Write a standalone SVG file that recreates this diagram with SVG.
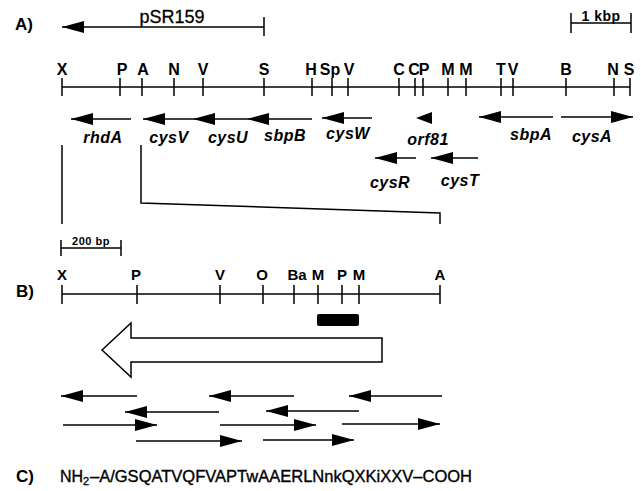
<svg xmlns="http://www.w3.org/2000/svg" width="641" height="491" viewBox="0 0 641 491">
<style>
.ln{stroke:#000;stroke-width:1.5;fill:none}
.ar{stroke:#000;stroke-width:1.5;fill:none;marker-end:url(#head)}
.lb{font-family:"Liberation Sans",Arial,sans-serif;font-weight:bold;font-size:16px;text-anchor:middle;fill:#000}
.lbB{font-family:"Liberation Sans",Arial,sans-serif;font-weight:bold;font-size:15px;text-anchor:middle;fill:#000}
.gn{font-family:"Liberation Sans",Arial,sans-serif;font-weight:bold;font-style:italic;font-size:16px;text-anchor:middle;letter-spacing:0.5px;fill:#000}
.pl{font-family:"Liberation Sans",Arial,sans-serif;font-weight:bold;font-size:17px;fill:#000}
.sq{font-family:"Liberation Sans",Arial,sans-serif;font-size:16px;fill:#000;stroke:#000;stroke-width:0.35}
</style>
<defs>
<marker id="head" viewBox="0 0 22 12" refX="22" refY="6" markerWidth="22" markerHeight="12" markerUnits="userSpaceOnUse" orient="auto">
<path d="M0,0 L22,6 L0,12 z" fill="#000"/>
</marker>
</defs>
<rect width="641" height="491" fill="#fff"/>

<g id="panelA">
<text class="pl" x="15" y="30">A)</text>
<g id="pSR159">
<line class="ar" x1="264" y1="27" x2="62" y2="27"/>
<line class="ln" x1="264" y1="17" x2="264" y2="36"/>
<text x="172" y="23" font-family="Liberation Sans,Arial,sans-serif" font-size="18" text-anchor="middle" stroke="#000" stroke-width="0.3">pSR159</text>
</g>
<g id="scale1kbp">
<line class="ln" x1="571" y1="23" x2="631" y2="23"/>
<line class="ln" x1="571" y1="13" x2="571" y2="33"/>
<line class="ln" x1="631" y1="13" x2="631" y2="33"/>
<text x="601" y="21" font-family="Liberation Sans,Arial,sans-serif" font-weight="bold" font-size="14" text-anchor="middle" letter-spacing="0.5">1 kbp</text>
</g>
<g id="mapA">
<line class="ln" x1="62" y1="87" x2="630" y2="87"/>
<path class="ln" d="M62,78V96 M120,78V96 M142,78V96 M174,78V96 M203,78V96 M264,78V96 M312,78V96 M332,78V96 M348,78V96 M399,78V96 M415,78V96 M423,78V96 M448,78V96 M466,78V96 M501,78V96 M513,78V96 M566,78V96 M614,78V96 M630,78V96"/>
<text class="lb" x="62" y="75">X</text>
<text class="lb" x="122" y="75">P</text>
<text class="lb" x="143" y="75">A</text>
<text class="lb" x="174" y="75">N</text>
<text class="lb" x="203" y="75">V</text>
<text class="lb" x="264" y="75">S</text>
<text class="lb" x="311" y="75">H</text>
<text class="lb" x="330" y="75">Sp</text>
<text class="lb" x="349" y="75">V</text>
<text class="lb" x="399" y="75">C</text>
<text class="lb" x="414" y="75">C</text>
<text class="lb" x="424" y="75">P</text>
<text class="lb" x="448" y="75">M</text>
<text class="lb" x="466" y="75">M</text>
<text class="lb" x="501" y="75">T</text>
<text class="lb" x="513" y="75">V</text>
<text class="lb" x="566" y="75">B</text>
<text class="lb" x="613" y="75">N</text>
<text class="lb" x="629" y="75">S</text>
</g>
<g id="genes">
<line class="ar" x1="131" y1="119" x2="71" y2="119"/>
<line class="ar" x1="193" y1="119" x2="143" y2="119"/>
<line class="ar" x1="247" y1="119" x2="193" y2="119"/>
<line class="ar" x1="312" y1="119" x2="247" y2="119"/>
<line class="ar" x1="372" y1="118" x2="322" y2="118"/>
<polygon points="432,112 416,118 432,124" fill="#000"/>
<line class="ar" x1="553" y1="117" x2="479" y2="117"/>
<line class="ar" x1="561" y1="117" x2="633" y2="117"/>
<line class="ar" x1="416" y1="158" x2="375" y2="158"/>
<line class="ar" x1="478" y1="158" x2="431" y2="158"/>
<text class="gn" x="103" y="143">rhdA</text>
<text class="gn" x="169" y="143">cysV</text>
<text class="gn" x="228" y="143">cysU</text>
<text class="gn" x="285" y="141">sbpB</text>
<text class="gn" x="348" y="139">cysW</text>
<text class="gn" x="428" y="145">orf81</text>
<text class="gn" x="531" y="140">sbpA</text>
<text class="gn" x="592" y="142">cysA</text>
<text class="gn" x="390" y="188">cysR</text>
<text class="gn" x="460" y="186">cysT</text>
</g>
</g>

<g id="expansion">
<line class="ln" x1="62" y1="145" x2="62" y2="224"/>
<polyline class="ln" points="141,145 141,203 440,213 440,224"/>
</g>

<g id="panelB">
<text class="pl" x="16" y="297">B)</text>
<g id="scale200">
<line class="ln" x1="61" y1="248" x2="121" y2="248"/>
<line class="ln" x1="61" y1="240" x2="61" y2="256"/>
<line class="ln" x1="121" y1="240" x2="121" y2="256"/>
<text x="91" y="245" font-family="Liberation Sans,Arial,sans-serif" font-weight="bold" font-size="11" text-anchor="middle" letter-spacing="0.5">200 bp</text>
</g>
<g id="mapB">
<line class="ln" x1="62" y1="294" x2="440" y2="294"/>
<path class="ln" d="M62,285V304 M137,285V304 M220,285V304 M263,285V304 M294,285V304 M318,285V304 M342,285V304 M359,285V304 M440,285V304"/>
<text class="lbB" x="62" y="280">X</text>
<text class="lbB" x="136" y="280">P</text>
<text class="lbB" x="220" y="280">V</text>
<text class="lbB" x="262" y="280">O</text>
<text class="lbB" x="297" y="280">Ba</text>
<text class="lbB" x="318" y="280">M</text>
<text class="lbB" x="342" y="280">P</text>
<text class="lbB" x="359" y="280">M</text>
<text class="lbB" x="440" y="280">A</text>
</g>
<rect id="bar" x="317" y="314" width="42" height="12" rx="2" fill="#000"/>
<polygon id="openArrow" points="102,350 131,323 131,338 382,338 382,362 131,362 131,377" fill="#fff" stroke="#000" stroke-width="1.5"/>
<g id="seqArrows">
<line class="ar" x1="137" y1="396" x2="61" y2="396"/>
<line class="ar" x1="294" y1="396" x2="209" y2="396"/>
<line class="ar" x1="442" y1="396" x2="349" y2="396"/>
<line class="ar" x1="219" y1="412" x2="125" y2="412"/>
<line class="ar" x1="359" y1="411" x2="266" y2="411"/>
<line class="ar" x1="63" y1="425" x2="157" y2="425"/>
<line class="ar" x1="220" y1="425" x2="316" y2="425"/>
<line class="ar" x1="342" y1="424" x2="440" y2="424"/>
<line class="ar" x1="136" y1="441" x2="242" y2="441"/>
<line class="ar" x1="263" y1="440" x2="354" y2="440"/>
</g>
</g>

<g id="panelC">
<text class="pl" x="16" y="482">C)</text>
<text class="sq" x="60" y="482">NH<tspan font-size="11" dy="3">2</tspan></text>
<text class="sq" x="90" y="482" textLength="382" lengthAdjust="spacingAndGlyphs">–A/GSQATVQFVAPTwAAERLNnkQXKiXXV–COOH</text>
</g>
</svg>
